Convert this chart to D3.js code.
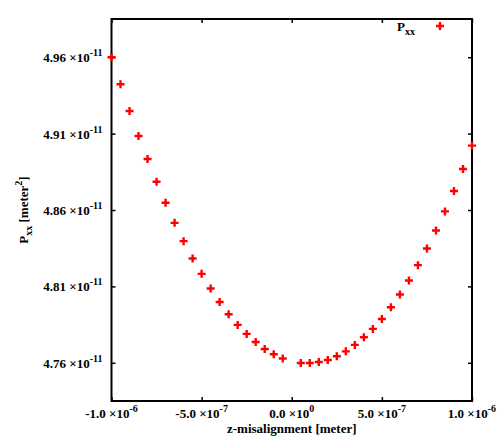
<!DOCTYPE html>
<html><head><meta charset="utf-8">
<script src="https://cdn.jsdelivr.net/npm/d3@7"></script>
<style>body{margin:0;background:#fff}svg{display:block}text{font-family:"Liberation Serif","Times New Roman",serif;font-weight:bold;fill:#000}</style>
</head><body>
<script>
const xValues = [-1.0e-6,-9.5e-7,-9.0e-7,-8.5e-7,-8.0e-7,-7.5e-7,-7.0e-7,-6.5e-7,-6.0e-7,-5.5e-7,-5.0e-7,-4.5e-7,-4.0e-7,-3.5e-7,-3.0e-7,-2.5e-7,-2.0e-7,-1.5e-7,-1.0e-7,-5.0e-8,
  5.0e-8,1.0e-7,1.5e-7,2.0e-7,2.5e-7,3.0e-7,3.5e-7,4.0e-7,4.5e-7,5.0e-7,5.5e-7,6.0e-7,6.5e-7,7.0e-7,7.5e-7,8.0e-7,8.5e-7,9.0e-7,9.5e-7,1.0e-6];
const pxxValues = [4.9600,4.9423,4.9248,4.9084,4.8934,4.8785,4.8647,4.8516,4.8396,4.8283,4.8182,4.8086,4.7998,4.7918,4.7848,4.7789,4.7736,4.7690,4.7656,4.7628,
  4.7599,4.7599,4.7605,4.7618,4.7643,4.7675,4.7717,4.7767,4.7822,4.7887,4.7964,4.8047,4.8139,4.8239,4.8348,4.8466,4.8591,4.8724,4.8868,4.9021].map(v=>v*1e-11);
const xTicks = [-1.0e-6,-5.0e-7,0,5.0e-7,1.0e-6];
const xTickMantissa = ["-1.0","-5.0","0.0","5.0","1.0"];
const xTickExp = ["-6","-7","0","-7","-6"];
const yTicks = [4.76e-11,4.81e-11,4.86e-11,4.91e-11,4.96e-11];
const yTickMantissa = ["4.76","4.81","4.86","4.91","4.96"];
const yTickExp = ["-11","-11","-11","-11","-11"];

const W=498,H=436;
const L=111.5,R=472,T=19,B=401;
const svg=d3.select("body").append("svg").attr("width",W).attr("height",H);
const x=d3.scaleLinear().domain([-1e-6,1e-6]).range([L,R]);
const y=d3.scaleLinear().domain([4.735e-11,4.985e-11]).range([B,T]);

function ticksStyle(g){g.select(".domain").remove();g.selectAll("line").attr("stroke","#000").attr("stroke-width",1.5);g.selectAll("text").remove();}
svg.append("g").attr("transform",`translate(0,${B})`).call(d3.axisBottom(x).tickValues(xTicks).tickSizeInner(-4).tickSizeOuter(0)).call(ticksStyle);
svg.append("g").attr("transform",`translate(0,${T})`).call(d3.axisTop(x).tickValues(xTicks).tickSizeInner(-4).tickSizeOuter(0)).call(ticksStyle);
svg.append("g").attr("transform",`translate(${L},0)`).call(d3.axisLeft(y).tickValues(yTicks).tickSizeInner(-4).tickSizeOuter(0)).call(ticksStyle);
svg.append("g").attr("transform",`translate(${R},0)`).call(d3.axisRight(y).tickValues(yTicks).tickSizeInner(-4).tickSizeOuter(0)).call(ticksStyle);

svg.append("rect").attr("x",L).attr("y",T).attr("width",R-L).attr("height",B-T).attr("fill","none").attr("stroke","#000").attr("stroke-width",2);

xTicks.forEach((v,i)=>{
  const t=svg.append("text").attr("x",x(v)).attr("y",418).attr("text-anchor","middle").attr("font-size",13);
  t.append("tspan").text(xTickMantissa[i]+" \u00d710");
  t.append("tspan").attr("dy",-6).attr("font-size",10).text(xTickExp[i]);
});
yTicks.forEach((v,i)=>{
  const t=svg.append("text").attr("x",L-9).attr("y",y(v)+5).attr("text-anchor","end").attr("font-size",13);
  t.append("tspan").text(yTickMantissa[i]+" \u00d710");
  t.append("tspan").attr("dy",-6).attr("font-size",10).text(yTickExp[i]);
});

svg.append("text").attr("x",(L+R)/2).attr("y",433).attr("text-anchor","middle").attr("font-size",13).text("z-misalignment [meter]");
const yt=svg.append("text").attr("transform",`translate(28,210) rotate(-90)`).attr("text-anchor","middle").attr("font-size",13);
yt.append("tspan").text("P");
yt.append("tspan").attr("dy",4).attr("font-size",10).text("xx");
yt.append("tspan").attr("dy",-4).text(" [meter");
yt.append("tspan").attr("dy",-6).attr("font-size",10).text("2");
yt.append("tspan").attr("dy",6).text("]");

function plus(sel,cx,cy){sel.append("path").attr("d",`M${cx-4},${cy}H${cx+4}M${cx},${cy-4}V${cy+4}`).attr("stroke","#ff0000").attr("stroke-width",2.4).attr("fill","none");}
const pts=svg.append("g");
xValues.forEach((v,i)=>plus(pts,x(v),y(pxxValues[i])));

const lt=svg.append("text").attr("x",397).attr("y",31).attr("font-size",13);
lt.append("tspan").text("P");
lt.append("tspan").attr("dy",4).attr("font-size",10).text("xx");
plus(svg,440,26);
</script>
</body></html>
